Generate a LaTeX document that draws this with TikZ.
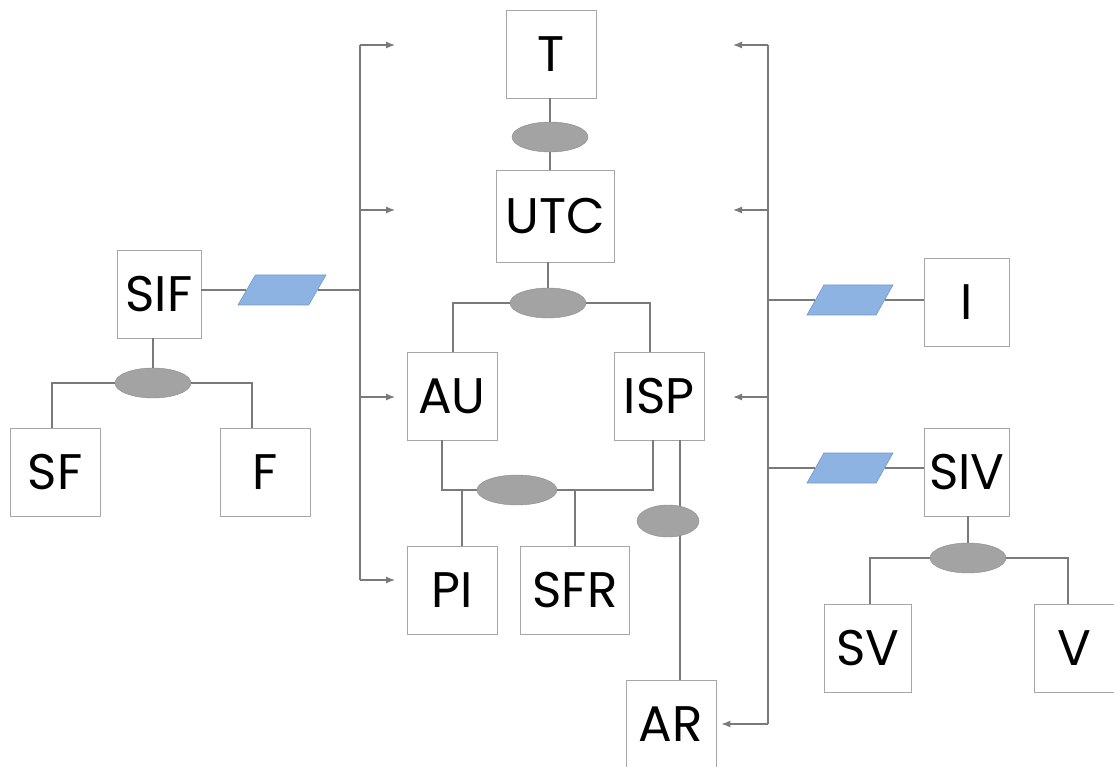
\documentclass[tikz,border=0pt]{standalone}
\usepackage{fontspec}
\setmainfont{Poppins}
\usetikzlibrary{shapes.geometric, arrows.meta}
\definecolor{lnkgray}{HTML}{7A7A7A}
\definecolor{boxgray}{HTML}{A6A6A6}
\definecolor{ovalgray}{HTML}{A3A3A3}
\definecolor{parablue}{HTML}{8DB3E2}
\definecolor{paraedge}{HTML}{7097CC}

\begin{document}
\begin{tikzpicture}[x=1pt, y=-1pt,
    box/.style={draw=boxgray, line width=0.8pt, fill=white, inner sep=0pt,
      minimum width=90pt, minimum height=88pt, font=\fontsize{50}{50}\selectfont},
    oval/.style={ellipse, fill=ovalgray, draw=ovalgray!85!black, line width=0.4pt,
      inner sep=0pt, minimum width=76pt, minimum height=30pt},
    para/.style={trapezium, trapezium left angle=72, trapezium right angle=108,
      trapezium stretches=true, fill=parablue, draw=paraedge, line width=0.6pt,
      inner sep=2pt, minimum width=88pt, minimum height=30pt},
    lnk/.style={draw=lnkgray, line width=1.2pt},
    tip/.style={-{Latex[length=9pt, width=7pt]}}]
  \useasboundingbox (0,0) rectangle (1114,767);

  % middle column
  \node[box] (T)   at (551,54)  {T};
  \node[box, minimum width=118pt, minimum height=92pt] (UTC) at (555,216) {UTC};
  \node[box] (AU)  at (452,396) {AU};
  \node[box] (ISP) at (659,396) {ISP};
  \node[box] (PI)  at (452,590) {PI};
  \node[box, minimum width=109pt] (SFR) at (575,590) {SFR};
  \node[box] (AR)  at (671,724) {AR};

  % left group
  \node[box, minimum width=84pt] (SIF) at (159,294) {SIF};
  \node[box] (SF)  at (55,472)  {SF};
  \node[box] (F)   at (265,472) {F};

  % right group
  \node[box, minimum width=85pt] (I)   at (967,302) {I};
  \node[box, minimum width=85pt] (SIV) at (967,472) {SIV};
  \node[box, minimum width=87pt] (SV)  at (868,648) {SV};
  \node[box, minimum width=80pt] (V)   at (1074,648) {V};

  % ovals and links
  \node[oval] (o1) at (550,137) {};
  \node[oval] (o2) at (548,303) {};
  \node[oval, minimum width=80pt] (o3) at (517,490) {};
  \node[oval] (o5) at (153,383) {};
  \node[oval] (o6) at (968,558) {};
  \node[para] (p1) at (282,290) {};
  \node[para, minimum width=86pt] (p2) at (850,300) {};
  \node[para, minimum width=86pt] (p3) at (850,468) {};

  \draw[lnk] (o1) -- (o1 |- T.south);
  \draw[lnk] (o1) -- (o1 |- UTC.north);
  \draw[lnk] (o2) -- (o2 |- UTC.south);
  \draw[lnk] (o2.west) -| ([xshift=1pt]AU.north);
  \draw[lnk] (o2.east) -| ([xshift=-9pt]ISP.north);

  \draw[lnk] ([xshift=-10pt]AU.south) |- (o3.west);
  \draw[lnk] ([xshift=-6pt]ISP.south) |- (o3.east);
  \draw[lnk] ([xshift=10pt]PI.north) |- (o3.west);
  \draw[lnk] (SFR.north) |- (o3.east);

  % ISP down to AR, oval sits on the line
  \draw[lnk] ([xshift=21pt]ISP.south) -- ([xshift=9pt]AR.north);
  \node[oval, minimum width=62pt, minimum height=32pt] (o4) at (668,521) {};

  \draw[lnk] (o5) -- (o5 |- SIF.south);
  \draw[lnk] (o5.west) -| ([xshift=-3pt]SF.north);
  \draw[lnk] (o5.east) -| ([xshift=-13pt]F.north);

  \draw[lnk] (o6) -- (o6 |- SIV.south);
  \draw[lnk] (o6.west) -| ([xshift=2pt]SV.north);
  \draw[lnk] (o6.east) -| ([xshift=-6pt]V.north);

  % left trunk
  \foreach \y/\n in {45/a, 210/b, 397/c, 580/d} {
    \coordinate (lt\n) at (360,\y);
    \coordinate (la\n) at (395,\y);
  }
  \coordinate (lj) at (360,290);
  \draw[lnk] (lta) -- (ltd);
  \foreach \n in {a,b,c,d}
    \draw[lnk, tip] (lt\n) -- (la\n);
  \draw[lnk] (SIF.east |- lj) -- (p1) -- (lj);

  % right trunk
  \foreach \y/\n in {45/a, 210/b, 397/c} {
    \coordinate (rt\n) at (768,\y);
    \coordinate (ra\n) at (733,\y);
  }
  \coordinate (rtd) at (768,724);
  \draw[lnk] (rta) -- (rtd);
  \foreach \n in {a,b,c}
    \draw[lnk, tip] (rt\n) -- (ra\n);
  \draw[lnk, tip, shorten >=5pt] (rtd) -- (AR.east);
  \draw[lnk] (rta |- p2) -- (p2) -- (I.west |- p2);
  \draw[lnk] (rta |- p3) -- (p3) -- (SIV.west |- p3);
\end{tikzpicture}
\end{document}
